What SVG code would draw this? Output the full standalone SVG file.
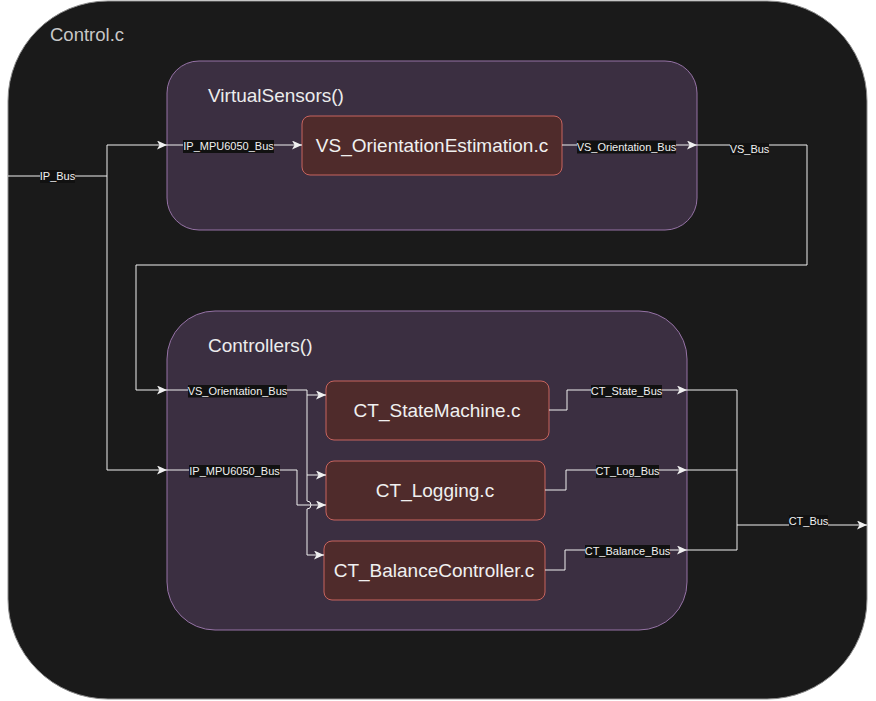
<svg xmlns="http://www.w3.org/2000/svg" width="876" height="701" viewBox="0 0 876 701">
<defs>
<style>
.title{font-family:"Liberation Sans",Arial,sans-serif;font-size:19px;fill:#ececec}
.node{font-family:"Liberation Sans",Arial,sans-serif;font-size:19px;fill:#f0f0f0;text-anchor:middle}
.lbl{font-family:"Liberation Sans",Arial,sans-serif;font-size:11px;fill:#f0f0f0;text-anchor:middle}
.lbg{fill:#111111}
.group{fill:#3b2f41;stroke:#9673a6;stroke-width:1}
.box{fill:#4f2b2b;stroke:#c8645f;stroke-width:1}
.edge{fill:none;stroke:#f0f0f0;stroke-width:1}
.arr{marker-end:url(#arrow)}
</style>
<marker id="arrow" markerUnits="userSpaceOnUse" markerWidth="12" markerHeight="10" refX="10" refY="4.5" orient="auto">
<path d="M0,0 L10,4.5 L0,9 L2.5,4.5 Z" fill="#f0f0f0"/>
</marker>
</defs>
<rect width="876" height="701" fill="#ffffff"/>
<g id="control">
<rect x="8" y="1" width="859" height="698" rx="100" ry="100" fill="#1a1a1a" stroke="#8c8c8c" stroke-width="1"/>
<text class="title" x="50" y="41" style="font-size:18.5px;fill:#c8c8c8">Control.c</text>
</g>
<g id="virtualsensors">
<rect class="group" x="167" y="61" width="530" height="169" rx="32" ry="32"/>
<text class="title" x="208" y="102">VirtualSensors()</text>
</g>
<g id="controllers">
<rect class="group" x="167" y="311" width="520" height="319" rx="48" ry="48"/>
<text class="title" x="208" y="352">Controllers()</text>
</g>
<g id="vs_orientation">
<rect class="box" x="302" y="116" width="260" height="59" rx="8" ry="8"/>
<text class="node" x="432" y="152">VS_OrientationEstimation.c</text>
</g>
<g id="ct_statemachine">
<rect class="box" x="326" y="381" width="223" height="59" rx="8" ry="8"/>
<text class="node" x="437" y="417">CT_StateMachine.c</text>
</g>
<g id="ct_logging">
<rect class="box" x="326" y="461" width="219" height="59" rx="8" ry="8"/>
<text class="node" x="435" y="497">CT_Logging.c</text>
</g>
<g id="ct_balance">
<rect class="box" x="324" y="541" width="221" height="59" rx="8" ry="8"/>
<text class="node" x="434" y="577">CT_BalanceController.c</text>
</g>
<g id="connectors">
<path class="edge arr" d="M8,176 L107,176 L107,145 L167,145"/>
<path class="edge arr" d="M107,176 L107,470 L167,470"/>
<rect class="lbg" x="40" y="170" width="35" height="13"/>
<text class="lbl" x="57.5" y="180">IP_Bus</text>
<path class="edge arr" d="M167,145 L302,145"/>
<rect class="lbg" x="183" y="140" width="91" height="13"/>
<text class="lbl" x="228.5" y="150">IP_MPU6050_Bus</text>
<path class="edge arr" d="M562,145 L697,145"/>
<rect class="lbg" x="577" y="140.5" width="99" height="13"/>
<text class="lbl" x="626.5" y="150.5">VS_Orientation_Bus</text>
<path class="edge arr" d="M697,145 L807,145 L807,265 L136,265 L136,390 L167,390"/>
<rect class="lbg" x="730" y="143" width="39" height="12"/>
<text class="lbl" x="749.5" y="153">VS_Bus</text>
<path class="edge arr" d="M167,390 L307,390 L307,395 L326,395"/>
<path class="edge arr" d="M307,395 L307,475 L326,475"/>
<path class="edge arr" d="M307,475 L307,501 A4,4 0 0 1 307,509 L307,555 L324,555"/>
<rect class="lbg" x="188" y="385" width="99" height="12.5"/>
<text class="lbl" x="237.5" y="395">VS_Orientation_Bus</text>
<path class="edge arr" d="M167,470 L297,470 L297,505 L326,505"/>
<rect class="lbg" x="189" y="465" width="91" height="12.5"/>
<text class="lbl" x="234.5" y="475">IP_MPU6050_Bus</text>
<path class="edge arr" d="M549,410 L567,410 L567,390 L687,390"/>
<rect class="lbg" x="591" y="385" width="71" height="13"/>
<text class="lbl" x="626.5" y="395">CT_State_Bus</text>
<path class="edge arr" d="M545,490 L566,490 L566,470 L687,470"/>
<rect class="lbg" x="596" y="465" width="63" height="13"/>
<text class="lbl" x="627.5" y="475">CT_Log_Bus</text>
<path class="edge arr" d="M545,570 L565,570 L565,550 L687,550"/>
<rect class="lbg" x="585" y="545" width="85" height="13"/>
<text class="lbl" x="627.5" y="555">CT_Balance_Bus</text>
<path class="edge" d="M687,390 L737,390 L737,550 L687,550"/>
<path class="edge" d="M687,470 L737,470"/>
<path class="edge arr" d="M737,525 L867,525"/>
<rect class="lbg" x="789" y="515" width="39" height="11.5"/>
<text class="lbl" x="808.5" y="524.5">CT_Bus</text>
</g>
</svg>
